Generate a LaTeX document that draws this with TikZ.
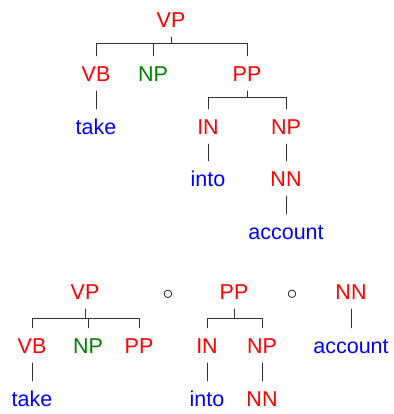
\documentclass[tikz,border=0pt]{standalone}
\usepackage{fontspec}
\setmainfont{Liberation Sans}
\definecolor{tagred}{RGB}{255,0,0}
\definecolor{taggreen}{RGB}{0,128,0}
\definecolor{wordblue}{RGB}{0,0,255}
\begin{document}
\begin{tikzpicture}[x=1pt,y=1pt,line cap=round,
	lbl/.style={anchor=base,inner xsep=0pt,inner ysep=6pt,text height=20pt,text depth=3pt,font=\fontsize{21.5}{25}\selectfont},
	tag/.style={lbl,text=tagred},
	gap/.style={lbl,text=taggreen},
	word/.style={lbl,text=wordblue},
	branch/.style={line width=0.9pt,black!80}]
	\useasboundingbox (0,0) rectangle (393,414);
	% whole tree
	\node[tag] (vp) at (171,386) {VP};
	\node[tag] (vb) at (96,332) {VB};
	\node[gap] (np) at (153,332) {NP};
	\node[tag] (pp) at (247,332) {PP};
	\node[word] (take) at (96,279) {take};
	\node[tag] (in) at (208,279) {IN};
	\node[tag] (npp) at (286,279) {NP};
	\node[word] (into) at (208,227) {into};
	\node[tag] (nn) at (286,227) {NN};
	\node[word] (account) at (286,174) {account};
	\path (vp.south) ++(0,-6) coordinate (vpbar);
	\draw[branch] (vp.south) -- (vpbar);
	\draw[branch] (vb.north) |- (vpbar) -| (pp.north);
	\draw[branch] (np.north) -- (np.north |- vpbar);
	\draw[branch] (vb.south) -- (take.north);
	\path (pp.south) ++(0,-6) coordinate (ppbar);
	\draw[branch] (pp.south) -- (ppbar);
	\draw[branch] (in.north) |- (ppbar) -| (npp.north);
	\draw[branch] (in.south) -- (into.north);
	\draw[branch] (npp.south) -- (nn.north);
	\draw[branch] (nn.south) -- (account.north);
	% composed pieces
	\node[tag] (vpA) at (85,114) {VP};
	\node[tag] (vbA) at (32,60) {VB};
	\node[gap] (npA) at (88,60) {NP};
	\node[tag] (ppA) at (139,60) {PP};
	\node[word] (takeA) at (32,7) {take};
	\node[lbl] (opA) at (168,114) {$\circ$};
	\node[tag] (ppB) at (234,114) {PP};
	\node[tag] (inB) at (207,60) {IN};
	\node[tag] (npB) at (262,60) {NP};
	\node[word] (intoB) at (207,7) {into};
	\node[tag] (nnB) at (262,7) {NN};
	\node[lbl] (opB) at (292,114) {$\circ$};
	\node[tag] (nnC) at (351,114) {NN};
	\node[word] (accountC) at (351,60) {account};
	\path (vpA.south) ++(0,-9) coordinate (vpAbar);
	\draw[branch] (vpA.south) -- (vpAbar);
	\draw[branch] (vbA.north) |- (vpAbar) -| (ppA.north);
	\draw[branch] (npA.north) -- (npA.north |- vpAbar);
	\draw[branch] (vbA.south) -- (takeA.north);
	\path (ppB.south) ++(0,-9) coordinate (ppBbar);
	\draw[branch] (ppB.south) -- (ppBbar);
	\draw[branch] (inB.north) |- (ppBbar) -| (npB.north);
	\draw[branch] (inB.south) -- (intoB.north);
	\draw[branch] (npB.south) -- (nnB.north);
	\draw[branch] (nnC.south) -- (accountC.north);
\end{tikzpicture}
\end{document}
